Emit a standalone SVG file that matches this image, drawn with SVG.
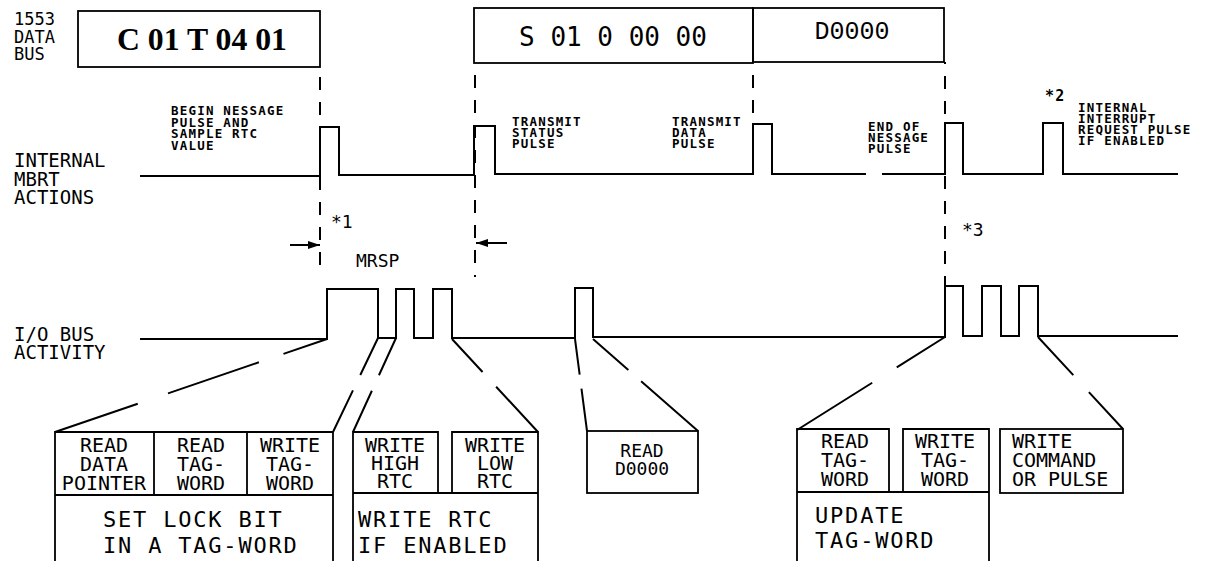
<svg xmlns="http://www.w3.org/2000/svg" width="1205" height="561" viewBox="0 0 1205 561">
<style>
.ln{fill:none;stroke:#000;stroke-width:2;stroke-linecap:butt;stroke-linejoin:miter}
.bx{fill:none;stroke:#000;stroke-width:1.8}
.dv{fill:none;stroke:#000;stroke-width:2;stroke-dasharray:13 12}
.side{font-family:"DejaVu Sans Mono","Liberation Mono",monospace;font-size:19px;fill:#000}
.sm{font-family:"DejaVu Sans Mono","Liberation Mono",monospace;font-size:12.5px;letter-spacing:1.2px;font-weight:bold;fill:#000}
.cell{font-family:"DejaVu Sans Mono","Liberation Mono",monospace;font-size:20px;fill:#000;text-anchor:middle}
.big{font-family:"DejaVu Sans Mono","Liberation Mono",monospace;font-size:22px;letter-spacing:1.8px;fill:#000}
.note{font-family:"DejaVu Sans Mono","Liberation Mono",monospace;font-size:18px;fill:#000}
</style>
<defs>
<marker id="ah" viewBox="0 0 12 8" refX="12" refY="4" markerWidth="12" markerHeight="8" markerUnits="userSpaceOnUse" orient="auto">
<path d="M0,0 L12,4 L0,8 Z" fill="#000"/>
</marker>
</defs>
<rect width="1205" height="561" fill="#fff"/>

<g id="labels">
<text class="side" style="font-size:17px" x="14" y="25">1553</text>
<text class="side" style="font-size:17px" x="14" y="43">DATA</text>
<text class="side" style="font-size:17px" x="14" y="60">BUS</text>
<text class="side" x="14" y="167">INTERNAL</text>
<text class="side" x="14" y="186">MBRT</text>
<text class="side" x="14" y="204">ACTIONS</text>
<text class="side" x="14" y="341">I/O BUS</text>
<text class="side" x="14" y="359">ACTIVITY</text>
</g>

<g id="cmd-word">
<rect class="bx" x="78" y="11" width="242" height="56"/>
<text x="202" y="50" text-anchor="middle" style="font-family:'Liberation Serif',serif;font-weight:bold;font-size:32px" textLength="170" lengthAdjust="spacingAndGlyphs">C 01 T 04 01</text>
</g>
<g id="status-word">
<rect class="bx" x="474" y="8" width="279" height="55"/>
<text x="613" y="46" text-anchor="middle" style="font-family:'DejaVu Sans Mono',monospace;font-size:26px">S 01 0 00 00</text>
</g>
<g id="data-word">
<rect class="bx" x="753" y="8" width="191" height="54"/>
<text x="852" y="39" text-anchor="middle" style="font-family:'Liberation Mono',monospace;font-size:25px">D0000</text>
</g>

<g id="guides">
<line class="dv" x1="320" y1="67" x2="320" y2="277" stroke-dashoffset="-10"/>
<line class="dv" x1="475" y1="63" x2="475" y2="277" stroke-dashoffset="-12"/>
<line class="dv" x1="753" y1="63" x2="753" y2="124" stroke-dashoffset="-12"/>
<line class="dv" x1="945" y1="62" x2="945" y2="286" stroke-dashoffset="-14"/>
</g>

<g id="mbrt-wave">
<path class="ln" d="M140,176 H320 V127 H339 V175 H474 V126 H495 V174 H753 V124 H772 V174 H866 M882,174 H945 V123 H963 V174 H1043 V123 H1063 V174 H1178"/>
</g>

<g id="mbrt-labels">
<text class="sm" x="171" y="115">BEGIN NESSAGE</text>
<text class="sm" x="171" y="126.5">PULSE AND</text>
<text class="sm" x="171" y="138">SAMPLE RTC</text>
<text class="sm" x="171" y="149.5">VALUE</text>
<text class="sm" x="512" y="126">TRANSMIT</text>
<text class="sm" x="512" y="137">STATUS</text>
<text class="sm" x="512" y="148">PULSE</text>
<text class="sm" x="672" y="126">TRANSMIT</text>
<text class="sm" x="672" y="137">DATA</text>
<text class="sm" x="672" y="148">PULSE</text>
<text class="sm" x="868" y="131">END OF</text>
<text class="sm" x="868" y="142">NESSAGE</text>
<text class="sm" x="868" y="153">PULSE</text>
<text class="sm" style="font-size:15px" x="1045" y="101">*2</text>
<text class="sm" x="1078" y="112">INTERNAL</text>
<text class="sm" x="1078" y="123">INTERRUPT</text>
<text class="sm" x="1078" y="134">REQUEST PULSE</text>
<text class="sm" x="1078" y="145">IF ENABLED</text>
</g>

<g id="mrsp">
<text class="note" x="331" y="228">*1</text>
<text class="note" x="356" y="267">MRSP</text>
<text class="note" x="962" y="236">*3</text>
</g>

<g id="io-wave">
<path class="ln" d="M140,339 H327 V289 H378 V338 H396 V289 H414 V338 H433 V289 H452 V338 H575 V288 H593 V337 H945 V286 H963 V336 H982 V286 H1001 V336 H1019 V286 H1038 V336 H1178"/>
</g>

<g id="connectors">
<line class="ln" x1="290" y1="245" x2="320" y2="245" marker-end="url(#ah)"/>
<line class="ln" x1="507" y1="243" x2="476" y2="243" marker-end="url(#ah)"/>
<line class="ln" x1="327" y1="339" x2="55" y2="432" stroke-dasharray="46 26 96 32 95"/>
<line class="ln" x1="378" y1="338" x2="333" y2="432" stroke-dasharray="41 17 60"/>
<line class="ln" x1="396" y1="338" x2="353" y2="432" stroke-dasharray="41 17 60"/>
<line class="ln" x1="452" y1="339" x2="538" y2="432" stroke-dasharray="45 20 80"/>
<line class="ln" x1="575" y1="339" x2="587" y2="431" stroke-dasharray="36 14 60"/>
<line class="ln" x1="593" y1="339" x2="698" y2="431" stroke-dasharray="47 17 90"/>
<line class="ln" x1="945" y1="337" x2="797" y2="430" stroke-dasharray="57 29 100"/>
<line class="ln" x1="1038" y1="337" x2="1123" y2="429" stroke-dasharray="52 23 60"/>
</g>

<g id="lock-box">
<path class="bx" d="M55,561 V432 H333 V561 M55,495 H333 M154,432 V495 M247,432 V495"/>
<text class="cell" x="104" y="452">READ</text>
<text class="cell" x="104" y="471">DATA</text>
<text class="cell" x="104" y="490">POINTER</text>
<text class="cell" x="201" y="452">READ</text>
<text class="cell" x="201" y="471">TAG-</text>
<text class="cell" x="201" y="490">WORD</text>
<text class="cell" x="290" y="452">WRITE</text>
<text class="cell" x="290" y="471">TAG-</text>
<text class="cell" x="290" y="490">WORD</text>
<text class="big" x="103" y="527">SET LOCK BIT</text>
<text class="big" x="103" y="553">IN A TAG-WORD</text>
</g>

<g id="rtc-box">
<path class="bx" d="M353,561 V432 H438 V493 M452,493 V432 H538 V561 M353,493 H538"/>
<text class="cell" x="395" y="452">WRITE</text>
<text class="cell" x="395" y="470">HIGH</text>
<text class="cell" x="395" y="488">RTC</text>
<text class="cell" x="495" y="452">WRITE</text>
<text class="cell" x="495" y="470">LOW</text>
<text class="cell" x="495" y="488">RTC</text>
<text class="big" x="358" y="527">WRITE RTC</text>
<text class="big" x="358" y="553">IF ENABLED</text>
</g>

<g id="read-box">
<rect class="bx" x="587" y="431" width="111" height="62"/>
<text class="cell" style="font-size:18px" x="642" y="457">READ</text>
<text class="cell" style="font-size:18px" x="642" y="475">D0000</text>
</g>

<g id="update-box">
<path class="bx" d="M797,561 V429 H889 V492 M903,492 V429 H989 V561 M797,492 H989"/>
<text class="cell" x="845" y="448">READ</text>
<text class="cell" x="845" y="467">TAG-</text>
<text class="cell" x="845" y="486">WORD</text>
<text class="cell" x="945" y="448">WRITE</text>
<text class="cell" x="945" y="467">TAG-</text>
<text class="cell" x="945" y="486">WORD</text>
<text class="big" x="815" y="523">UPDATE</text>
<text class="big" x="815" y="548">TAG-WORD</text>
</g>

<g id="cmd-box">
<rect class="bx" x="1000" y="429" width="123" height="64"/>
<text class="cell" style="text-anchor:start" x="1012" y="448">WRITE</text>
<text class="cell" style="text-anchor:start" x="1012" y="467">COMMAND</text>
<text class="cell" style="text-anchor:start" x="1012" y="486">OR PULSE</text>
</g>
</svg>
